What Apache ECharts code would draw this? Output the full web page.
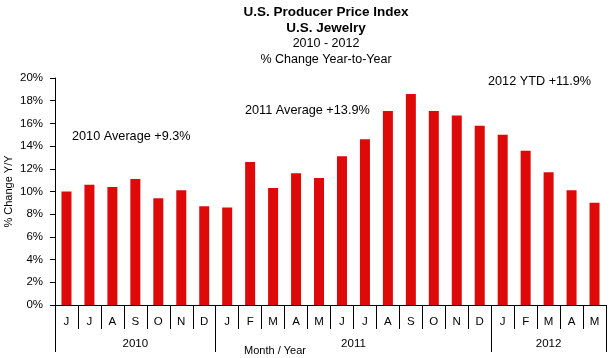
<!DOCTYPE html>
<html><head><meta charset="utf-8">
<script src="https://cdn.jsdelivr.net/npm/echarts@6/dist/echarts.min.js"></script>
<style>html,body{margin:0;padding:0;background:#fff}#c{width:610px;height:358px}</style>
</head><body><div id="c"></div>
<script>
const months = ['J','J','A','S','O','N','D','J','F','M','A','M','J','J','A','S','O','N','D','J','F','M','A','M'];
const values = [10.0,10.6,10.4,11.1,9.4,10.1,8.7,8.6,12.6,10.3,11.6,11.2,13.1,14.6,17.1,18.6,17.1,16.7,15.8,15.0,13.6,11.7,10.1,9.0];
const years = ['2010','2011','2012'];
const yearBounds = [0,7,19,24];
const yearCenters = [3.5,13,21.5];
const titleLines = ['U.S. Producer Price Index','U.S. Jewelry','2010 - 2012','% Change Year-to-Year'];
const notes = ['2010 Average +9.3%','2011 Average +13.9%','2012 YTD +11.9%'];

const F = '"Liberation Sans", Arial, sans-serif';
const chart = echarts.init(document.getElementById('c'), null, {renderer:'canvas'});
chart.setOption({
  animation:false,
  backgroundColor:'#fff',
  grid:{left:55,right:4,top:78,bottom:53,containLabel:false,outerBoundsMode:'none'},
  xAxis:[
    {type:'category',data:months,boundaryGap:true,
     axisLine:{lineStyle:{color:'#000',width:1}},
     axisTick:{show:true,interval:0,length:24,lineStyle:{color:'#000'}},
     axisLabel:{interval:0,margin:11,fontFamily:F,fontSize:11.5,color:'#000'}},
    {type:'value',min:0,max:24,position:'bottom',
     axisLine:{show:false},splitLine:{show:false},
     axisTick:{show:true,length:47,customValues:yearBounds,lineStyle:{color:'#000'}},
     axisLabel:{show:true,margin:33,customValues:yearCenters,fontFamily:F,fontSize:11.5,color:'#000',
       formatter:function(v){return years[yearCenters.indexOf(v)];}}}
  ],
  yAxis:{type:'value',min:0,max:20,interval:2,
    name:'% Change Y/Y',nameLocation:'middle',nameGap:41,nameRotate:90,nameMoveOverlap:false,
    nameTextStyle:{fontFamily:F,fontSize:11,color:'#000'},
    axisLine:{show:true,lineStyle:{color:'#000'}},
    axisTick:{show:true,length:5,lineStyle:{color:'#000'}},
    splitLine:{show:false},
    axisLabel:{formatter:'{value}%',margin:12,fontFamily:F,fontSize:11.5,color:'#000'}},
  series:[{type:'bar',data:values,barWidth:10,xAxisIndex:0,
    itemStyle:{color:'#DE0A0A'}}],
  graphic:[
    {type:'text',x:326,y:5,style:{text:titleLines[0],font:'bold 13.5px '+F,fill:'#000',textAlign:'center'}},
    {type:'text',x:326,y:21,style:{text:titleLines[1],font:'bold 13.5px '+F,fill:'#000',textAlign:'center'}},
    {type:'text',x:326,y:37,style:{text:titleLines[2],font:'12.5px '+F,fill:'#000',textAlign:'center'}},
    {type:'text',x:326,y:53,style:{text:titleLines[3],font:'12.5px '+F,fill:'#000',textAlign:'center'}},
    {type:'text',left:72,top:130,style:{text:notes[0],font:'12.7px '+F,fill:'#000'}},
    {type:'text',left:245,top:104,style:{text:notes[1],font:'12.7px '+F,fill:'#000'}},
    {type:'text',left:488,top:75,style:{text:notes[2],font:'12.7px '+F,fill:'#000'}},
    {type:'text',left:244,top:345,style:{text:'Month / Year',font:'11px '+F,fill:'#000'}}
  ]
});
</script></body></html>
